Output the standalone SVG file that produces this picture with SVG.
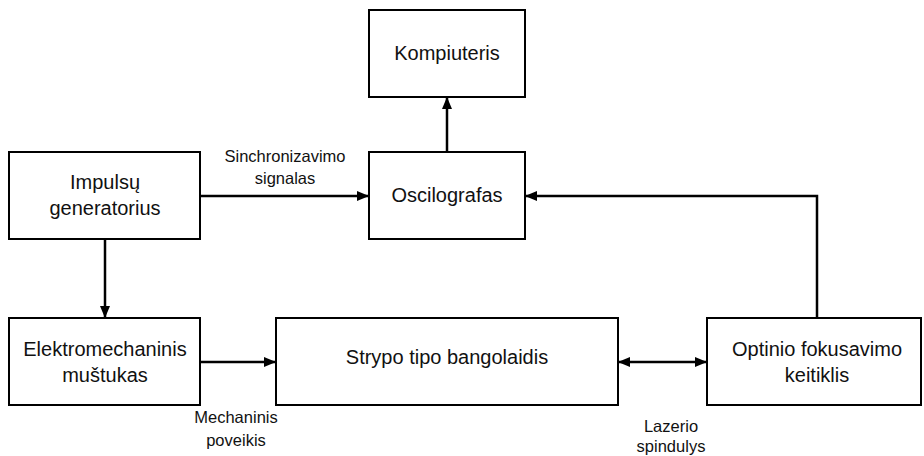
<svg xmlns="http://www.w3.org/2000/svg" width="924" height="456" viewBox="0 0 924 456">
  <style>
    .box { fill: #ffffff; stroke: #000000; stroke-width: 2; }
    .wire { fill: none; stroke: #000000; stroke-width: 2.5; }
    .lbl { font-family: "Liberation Sans", Arial, sans-serif; font-size: 20px; fill: #111111; text-anchor: middle; }
    .note { font-family: "Liberation Sans", Arial, sans-serif; font-size: 16.5px; fill: #111111; text-anchor: middle; }
  </style>
  <defs>
    <marker id="arrow" viewBox="0 0 12 10" refX="12" refY="5" markerWidth="12" markerHeight="10" markerUnits="userSpaceOnUse" orient="auto-start-reverse">
      <path d="M0,0 L12,5 L0,10 Z" fill="#000000"/>
    </marker>
  </defs>
  <rect width="924" height="456" fill="#ffffff"/>

  <!-- connectors -->
  <g id="connectors">
    <path class="wire" d="M447,152 V97" marker-end="url(#arrow)"/>
    <path class="wire" d="M200,196 H369" marker-end="url(#arrow)"/>
    <path class="wire" d="M105,239 V318" marker-end="url(#arrow)"/>
    <path class="wire" d="M200,362 H276" marker-end="url(#arrow)"/>
    <path class="wire" d="M618,362 H707" marker-start="url(#arrow)" marker-end="url(#arrow)"/>
    <path class="wire" d="M817,318 V196 H525" marker-end="url(#arrow)"/>
    <text class="note" x="285" y="162">Sinchronizavimo</text>
    <text class="note" x="285" y="184">signalas</text>
    <text class="note" x="236" y="423">Mechaninis</text>
    <text class="note" x="236" y="446">poveikis</text>
    <text class="note" x="671" y="432">Lazerio</text>
    <text class="note" x="671" y="452">spindulys</text>
  </g>

  <g id="kompiuteris">
    <rect class="box" x="369" y="10" width="156" height="87"/>
    <text class="lbl" x="447" y="60">Kompiuteris</text>
  </g>

  <g id="oscilografas">
    <rect class="box" x="369" y="152" width="156" height="87"/>
    <text class="lbl" x="447" y="202">Oscilografas</text>
  </g>

  <g id="impulsu-generatorius">
    <rect class="box" x="9" y="152" width="191" height="87"/>
    <text class="lbl" x="105" y="189">Impulsų</text>
    <text class="lbl" x="105" y="215">generatorius</text>
  </g>

  <g id="elektromechaninis-mustukas">
    <rect class="box" x="9" y="318" width="191" height="87"/>
    <text class="lbl" x="105" y="356">Elektromechaninis</text>
    <text class="lbl" x="105" y="382">muštukas</text>
  </g>

  <g id="strypo-bangolaidis">
    <rect class="box" x="276" y="318" width="342" height="87"/>
    <text class="lbl" x="447" y="364">Strypo tipo bangolaidis</text>
  </g>

  <g id="optinio-keitiklis">
    <rect class="box" x="707" y="318" width="214" height="87"/>
    <text class="lbl" x="817" y="356">Optinio fokusavimo</text>
    <text class="lbl" x="817" y="382">keitiklis</text>
  </g>
</svg>
